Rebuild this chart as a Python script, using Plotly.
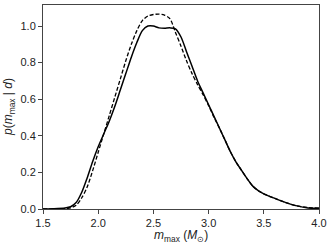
import plotly.graph_objects as go

m_solid = [1.5, 1.6, 1.7, 1.75, 1.8, 1.85, 1.9, 1.95, 2.0, 2.05, 2.1, 2.15, 2.2, 2.25, 2.3, 2.35, 2.4, 2.45, 2.5, 2.55, 2.6, 2.65, 2.7, 2.75, 2.8, 2.85, 2.9, 2.95, 3.0, 3.05, 3.1, 3.15, 3.2, 3.25, 3.3, 3.35, 3.4, 3.45, 3.5, 3.6, 3.7, 3.8, 3.9, 4.0]
p_solid = [0.0, 0.001, 0.005, 0.012, 0.035, 0.09, 0.17, 0.26, 0.34, 0.41, 0.48, 0.56, 0.65, 0.74, 0.83, 0.91, 0.975, 1.0, 1.0, 0.99, 0.988, 0.99, 0.985, 0.94, 0.86, 0.78, 0.70, 0.635, 0.57, 0.505, 0.44, 0.375, 0.31, 0.255, 0.21, 0.165, 0.125, 0.1, 0.083, 0.058, 0.035, 0.017, 0.006, 0.004]

m_dash = [1.5, 1.6, 1.7, 1.75, 1.8, 1.85, 1.9, 1.95, 2.0, 2.05, 2.1, 2.15, 2.2, 2.25, 2.3, 2.35, 2.4, 2.45, 2.5, 2.55, 2.6, 2.65, 2.7, 2.75, 2.8, 2.85, 2.9, 2.95, 3.0, 3.05, 3.1, 3.15, 3.2, 3.25, 3.3, 3.35, 3.4, 3.45, 3.5, 3.6, 3.7, 3.8, 3.9, 4.0]
p_dash = [0.0, 0.0, 0.002, 0.006, 0.02, 0.06, 0.12, 0.21, 0.31, 0.41, 0.51, 0.61, 0.71, 0.81, 0.9, 0.975, 1.03, 1.055, 1.063, 1.065, 1.06, 1.04, 0.965, 0.89, 0.81, 0.74, 0.68, 0.625, 0.565, 0.5, 0.44, 0.375, 0.31, 0.255, 0.21, 0.165, 0.125, 0.1, 0.083, 0.058, 0.035, 0.017, 0.008, 0.005]

x_ticks = [1.5, 2.0, 2.5, 3.0, 3.5, 4.0]
y_ticks = [0.0, 0.2, 0.4, 0.6, 0.8, 1.0]
x_title = "<i>m</i><sub>max</sub> (<i>M</i><sub>⊙</sub>)"
y_title = "<i>p</i>(<i>m</i><sub>max</sub> | <i>d</i>)"

fig = go.Figure()
fig.add_trace(go.Scatter(x=m_solid, y=p_solid, mode="lines",
                         line=dict(color="black", width=1.5, shape="spline", smoothing=0.8),
                         showlegend=False))
fig.add_trace(go.Scatter(x=m_dash, y=p_dash, mode="lines",
                         line=dict(color="black", width=1.3, dash="4px,2px", shape="spline", smoothing=0.8),
                         showlegend=False))

axis_common = dict(showline=True, linecolor="#444", linewidth=1, mirror=True,
                   ticks="outside", ticklen=4, tickcolor="#444", showgrid=False, zeroline=False,
                   automargin=False, tickfont=dict(size=11, color="#222"))
fig.update_xaxes(range=[1.5, 4.0], tickvals=x_ticks, ticktext=[f"{v:.1f}" for v in x_ticks],
                 **axis_common)
fig.update_yaxes(range=[0, 1.115], tickvals=y_ticks, ticktext=[f"{v:.1f}" for v in y_ticks],
                 **axis_common)
fig.add_annotation(text=x_title, xref="paper", yref="paper", x=0.5, y=0, yshift=-37,
                   showarrow=False, xanchor="center", yanchor="bottom",
                   font=dict(size=12, color="#222"))
fig.add_annotation(text=y_title, xref="paper", yref="paper", x=0, y=0.5, xshift=-34,
                   showarrow=False, xanchor="center", yanchor="middle", textangle=-90,
                   font=dict(size=12, color="#222"))
fig.update_layout(width=333, height=247, margin=dict(l=43, r=14, t=5, b=38, autoexpand=False),
                  paper_bgcolor="white", plot_bgcolor="white",
                  font=dict(family="Liberation Sans, Arial, sans-serif"))
fig.write_html("out.html", config={"displayModeBar": False},
               post_script="document.body.style.margin='0px';document.body.style.overflow='hidden';")
